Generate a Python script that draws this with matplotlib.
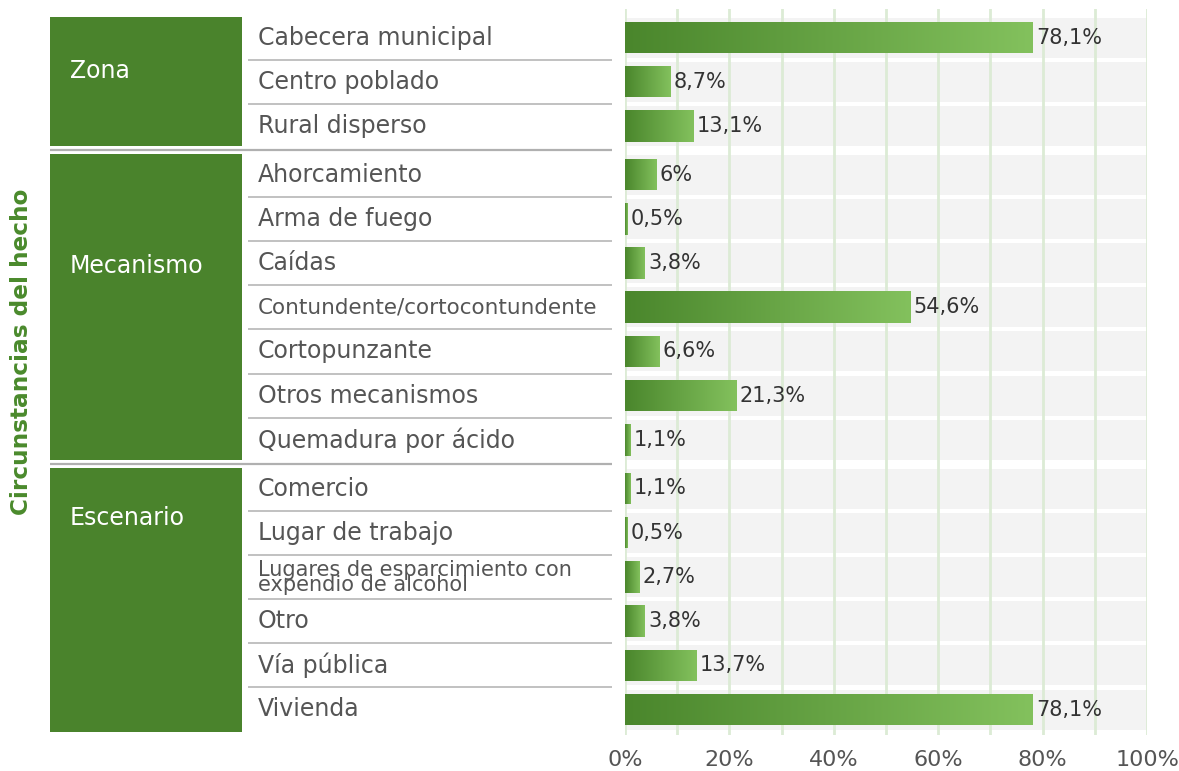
import matplotlib
matplotlib.use("Agg")
import matplotlib.pyplot as plt
import numpy as np
from matplotlib.patches import Rectangle
from matplotlib.colors import LinearSegmentedColormap

# ---------------- data ----------------
groups = ["Zona", "Mecanismo", "Escenario"]
zona_cats = ["Cabecera municipal", "Centro poblado", "Rural disperso"]
zona_vals = [78.1, 8.7, 13.1]
zona_lbls = ["78,1%", "8,7%", "13,1%"]
mec_cats = ["Ahorcamiento", "Arma de fuego", "Caídas", "Contundente/cortocontundente",
            "Cortopunzante", "Otros mecanismos", "Quemadura por ácido"]
mec_vals = [6.0, 0.5, 3.8, 54.6, 6.6, 21.3, 1.1]
mec_lbls = ["6%", "0,5%", "3,8%", "54,6%", "6,6%", "21,3%", "1,1%"]
esc_cats = ["Comercio", "Lugar de trabajo", "Lugares de esparcimiento con\nexpendio de alcohol",
            "Otro", "Vía pública", "Vivienda"]
esc_vals = [1.1, 0.5, 2.7, 3.8, 13.7, 78.1]
esc_lbls = ["1,1%", "0,5%", "2,7%", "3,8%", "13,7%", "78,1%"]
xticks = [0, 20, 40, 60, 80, 100]
xtick_labels = ["0%", "20%", "40%", "60%", "80%", "100%"]
ylabel = "Circunstancias del hecho"

# ---------------- style ----------------
FONT = "DejaVu Sans"
W, H = 1179, 771
BOX = "#4a832c"
C_DARK, C_LIGHT = "#4a862c", "#83c15d"
TXT = "#555555"
VAL = "#333333"
GRID = "#dcebd5"
BAND = "#f3f3f3"
SEP = "#b0b0b0"

ROW_H = 44.2
GAP = 4.5
Y0 = 37.5
X0_PIX, X1_PIX = 625, 1147
Y_TOP, Y_BOT = 9, 735
BOX_X0, BOX_X1 = 50, 242
LBL_X = 258
SEP_X1 = 612
group_label_frac = [0.42, 0.365, 0.19]

fig = plt.figure(figsize=(W / 100, H / 100), dpi=100)

# layout of rows
all_cats, all_vals, all_lbls, row_group = [], [], [], []
for gi, (c, v, l) in enumerate([(zona_cats, zona_vals, zona_lbls),
                                 (mec_cats, mec_vals, mec_lbls),
                                 (esc_cats, esc_vals, esc_lbls)]):
    all_cats += c; all_vals += v; all_lbls += l; row_group += [gi] * len(c)
ys = []
for i, g in enumerate(row_group):
    ys.append(Y0 + i * ROW_H + g * GAP)
ys = np.array(ys)

# ---------------- table (left) ----------------
tab = fig.add_axes([0, 0, 1, 1])
tab.set_xlim(0, W); tab.set_ylim(H, 0); tab.axis("off")

for gi, gname in enumerate(groups):
    idx = [i for i, g in enumerate(row_group) if g == gi]
    top = ys[idx[0]] - ROW_H / 2 + 1.5
    bot = ys[idx[-1]] + ROW_H / 2 - 1.5
    if gi == len(groups) - 1:
        bot = ys[idx[-1]] + ROW_H / 2
    tab.add_patch(Rectangle((BOX_X0, top), BOX_X1 - BOX_X0, bot - top, color=BOX, lw=0))
    tab.text(70, top + (bot - top) * group_label_frac[gi], gname, color="white",
             fontsize=17, family=FONT, va="center", ha="left")
    for i in idx[:-1]:
        yy = ys[i] + ROW_H / 2
        tab.plot([248, SEP_X1], [yy, yy], color=SEP, lw=1.1, solid_capstyle="butt")
    if gi < len(groups) - 1:
        yy = ys[idx[-1]] + ROW_H / 2 + GAP / 2
        tab.plot([BOX_X0, SEP_X1], [yy, yy], color=SEP, lw=1.6, solid_capstyle="butt")

for i, cat in enumerate(all_cats):
    if "\n" in cat:
        tab.text(LBL_X, ys[i] + 1, cat, color=TXT, fontsize=15, family=FONT,
                 va="center", ha="left", linespacing=0.68)
    elif len(cat) > 24:
        tab.text(LBL_X, ys[i], cat, color=TXT, fontsize=15.5, family=FONT,
                 va="center", ha="left")
    else:
        tab.text(LBL_X, ys[i], cat, color=TXT, fontsize=17, family=FONT,
                 va="center", ha="left")

tab.text(22, 352, ylabel, rotation=90, color="#4a8a2c", fontsize=16.7,
         fontweight="bold", family=FONT, va="center", ha="center")

# ---------------- bars ----------------
ax = fig.add_axes([X0_PIX / W, 1 - Y_BOT / H, (X1_PIX - X0_PIX) / W, (Y_BOT - Y_TOP) / H])
ax.set_xlim(0, 100)
ax.set_ylim(Y_BOT, Y_TOP)
ax.patch.set_alpha(0)
for s in ax.spines.values():
    s.set_visible(False)

ax.barh(ys, [100] * len(ys), height=40, color=BAND, zorder=0, left=0)
for gx in range(0, 101, 10):
    ax.axvline(gx, color=GRID, lw=2, zorder=1)

cmap = LinearSegmentedColormap.from_list("g", [C_DARK, C_LIGHT])
grad = np.linspace(0, 1, 256).reshape(1, -1)
bars = ax.barh(ys, all_vals, height=31.5, color=C_DARK, zorder=2)
for b, v in zip(bars, all_vals):
    y = b.get_y()
    h = b.get_height()
    im = ax.imshow(grad, extent=[0, v, y + h, y], aspect="auto", cmap=cmap,
                   zorder=3, interpolation="bicubic")
    im.set_clip_path(b)
ax.set_xlim(0, 100)
ax.set_ylim(Y_BOT, Y_TOP)

for y, v, l in zip(ys, all_vals, all_lbls):
    ax.text(v + 0.6, y, l, color=VAL, fontsize=15, family=FONT, va="center", ha="left", zorder=4)

ax.set_yticks([])
ax.set_xticks(xticks)
ax.set_xticklabels(xtick_labels, fontsize=16, family=FONT, color=TXT)
ax.tick_params(axis="x", length=0, pad=11)

fig.savefig("out.png", dpi=100)
